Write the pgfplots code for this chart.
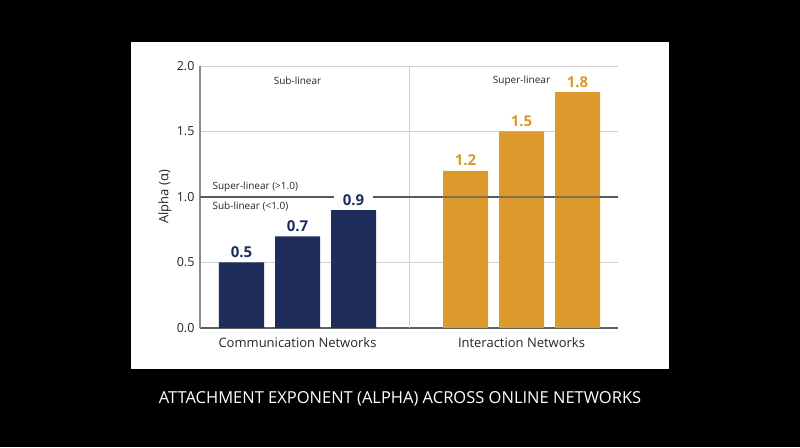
\documentclass[border=0pt]{standalone}
\usepackage{fontspec}
\setmainfont{Open Sans}
\usepackage{pgfplots}
\pgfplotsset{compat=1.18}
\definecolor{navy}{HTML}{1E2D5C}
\definecolor{gold}{HTML}{DB9A2B}
\definecolor{gridgray}{HTML}{D0D0D0}
\definecolor{thr}{HTML}{595959}
\begin{document}
\begin{tikzpicture}[x=1pt,y=1pt]
\fill[black] (0,0) rectangle (800,447);
\fill[white] (131,78) rectangle (669,405);
\node[text=white, font=\fontsize{16.5}{19}\selectfont] at (400,48.5) {ATTACHMENT EXPONENT (ALPHA) ACROSS ONLINE NETWORKS};
\begin{axis}[
  at={(200pt,119pt)}, anchor=south west,
  scale only axis, width=418pt, height=262pt,
  xmin=-0.741, xmax=6.723, ymin=0, ymax=2,
  axis lines=left,
  axis line style={-},
  x axis line style={draw=black!62, line width=1.6pt},
  y axis line style={draw=black!45, line width=1.2pt},
  ytick={0,0.5,1,1.5,2},
  ymajorgrids, grid style={gridgray, line width=0.8pt},
  xtick={1,5},
  xticklabels={Communication Networks, Interaction Networks},
  major tick length=0pt,
  /pgf/number format/assume math mode=true,
  yticklabel style={/pgf/number format/fixed, /pgf/number format/fixed zerofill, /pgf/number format/precision=1, font=\fontsize{12.5}{15}\selectfont, text=black!85, xshift=-2pt},
  xticklabel style={font=\fontsize{13}{16}\selectfont, text=black!85, yshift=-6pt},
  ylabel={Alpha (α)},
  ylabel style={at={(axis description cs:-0.084,0.5)}, anchor=center, font=\fontsize{13}{16}\selectfont, text=black!85},
  clip=false,
]
\draw[gridgray, line width=0.8pt] (axis cs:3,0) -- (axis cs:3,2);
\draw[thr, line width=1.4pt] (axis cs:-0.741,1) -- (axis cs:6.723,1);
\addplot[ybar, bar width=45pt, bar shift=0pt, fill=navy, draw=none,
  nodes near coords,
  nodes near coords style={text=navy, font=\bfseries\fontsize{15}{18}\selectfont, fill=white, inner xsep=9pt, inner ysep=1.5pt, anchor=south, yshift=3pt}]
  coordinates {(0,0.5) (1,0.7) (2,0.9)};
\addplot[ybar, bar width=45pt, bar shift=0pt, fill=gold, draw=none,
  nodes near coords,
  nodes near coords style={text=gold, font=\bfseries\fontsize{15}{18}\selectfont, anchor=south, inner sep=0pt, yshift=4.5pt}]
  coordinates {(4,1.2) (5,1.5) (6,1.8)};
\draw[thr, opacity=0.65, line width=1.4pt] (axis cs:3,1) -- (axis cs:6.723,1);
\node[anchor=west, font=\fontsize{10}{12}\selectfont, text=black!85] at (axis cs:-0.58,1.076) {Super-linear (>1.0)};
\node[anchor=west, font=\fontsize{10}{12}\selectfont, text=black!85] at (axis cs:-0.58,0.924) {Sub-linear (<1.0)};
\node[font=\fontsize{10}{12}\selectfont, text=black!85] at (axis cs:1,1.885) {Sub-linear};
\node[font=\fontsize{10}{12}\selectfont, text=black!85] at (axis cs:5,1.885) {Super-linear};
\end{axis}
\end{tikzpicture}
\end{document}
